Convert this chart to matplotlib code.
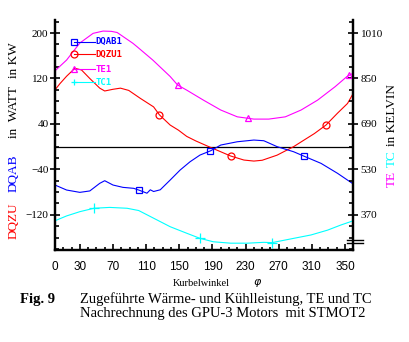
import numpy as np
import matplotlib
matplotlib.use("Agg")
import matplotlib.pyplot as plt

plt.rcParams['font.family'] = ['Liberation Serif', 'DejaVu Sans']

# crank angle samples and values
zu_deg = [0, 6, 14, 24, 32, 42, 54, 60, 70, 79, 89, 99, 103, 119, 126, 139, 149, 159, 170,
          184, 200, 212, 228, 240, 250, 268, 288, 301, 313, 327, 341, 353, 360]
zu_val = [100, 111, 124, 138, 135, 120, 103, 98, 101, 103, 99, 89, 85, 70, 56, 38, 29, 18, 10,
          1, -9, -16.5, -23.6, -25.4, -24, -15, 0, 12, 23, 38, 59, 76, 94]
zu_mark = [126, 212, 327]

ab_deg = [0, 14, 30, 42, 54, 60, 70, 82, 95, 101, 111, 115, 119, 127, 139, 151, 163, 175,
          188, 200, 220, 240, 252, 268, 288, 300, 321, 341, 360]
ab_val = [-67.6, -76.4, -80.5, -78, -64.6, -60, -67.6, -71.7, -73.4, -76.4, -82, -76, -79, -76,
          -58.8, -41.2, -26.6, -14.8, -7.2, 2.8, 8.6, 11.6, 10.4, 0, -9, -16.5, -29.4, -47, -65.8]
ab_mark = [101, 187, 300]

te_deg = [0, 14, 30, 46, 58, 68, 75, 94, 99, 118, 139, 148, 159, 179, 200, 220, 240, 258,
          278, 297, 317, 338, 352, 360]
te_val = [877, 915, 975, 1009, 1017, 1016, 1012, 974, 962, 915, 857, 827, 809, 774, 739, 715,
          707, 707, 715, 739, 774, 821, 856, 869]
te_mark = [149, 233, 355]

tc_deg = [0, 14, 30, 47, 66, 87, 101, 119, 139, 159, 175, 191, 212, 232, 252, 262, 288, 309,
          329, 345, 360]
tc_val = [349, 366, 381, 393, 396, 393, 385, 358, 328, 305, 287, 275, 270, 270, 273, 272, 287,
          299, 316, 334, 349]
tc_mark = [47, 175, 262]

x_major = [0, 30, 70, 110, 150, 190, 230, 270, 310, 350]
y_major = [200, 120, 40, -40, -120]
k_major = [1010, 850, 690, 530, 370]

RED, BLUE, MAG, CYAN = '#ff0000', '#0000ff', '#ff00ff', '#00ffff'

fig = plt.figure(figsize=(4.1, 3.42), dpi=100)
ax = fig.add_axes([55 / 410, 92 / 342, 298.3 / 410, 230 / 342])
ax2 = ax.twinx()

ylo, yhi = -182, 223
ax.set_xlim(0, 360)
ax.set_ylim(ylo, yhi)
ax2.set_ylim(610 + 2 * ylo, 610 + 2 * yhi)

ax.axhline(0, color='black', lw=0.9)

ax.plot(zu_deg, zu_val, color=RED, lw=0.8)
ax.plot(zu_mark, np.interp(zu_mark, zu_deg, zu_val), 'o', mfc='none', mec=RED, ms=5, mew=0.9)
ax.plot(ab_deg, ab_val, color=BLUE, lw=0.8)
ax.plot(ab_mark, np.interp(ab_mark, ab_deg, ab_val), 's', mfc='none', mec=BLUE, ms=5, mew=0.9)
ax2.plot(te_deg, te_val, color=MAG, lw=0.8)
ax2.plot(te_mark, np.interp(te_mark, te_deg, te_val), '^', mfc='none', mec=MAG, ms=5, mew=0.9)
ax2.plot(tc_deg, tc_val, color=CYAN, lw=0.8)
ax2.plot(tc_mark, np.interp(tc_mark, tc_deg, tc_val), '+', color=CYAN, ms=7, mew=0.9)

# ticks
ax.set_xticks(x_major)
ax.set_xticks(np.arange(0, 361, 10), minor=True)
ax.set_yticks(y_major)
ax.set_yticks(np.arange(-180, 221, 20), minor=True)
ax2.set_yticks(k_major)
ax2.set_yticks(np.arange(250, 1051, 40), minor=True)

for a in (ax, ax2):
    for s in a.spines.values():
        s.set_linewidth(1.6)
    a.spines['top'].set_visible(False)

ax.tick_params(axis='x', which='major', direction='in', length=4.5, width=1.2, pad=8,
               labelsize=8.5)
ax.tick_params(axis='x', which='minor', direction='in', length=2.2, width=1.2)
ax.tick_params(axis='y', which='major', direction='inout', length=6.5, width=1.2, pad=1.5,
               labelsize=8)
ax.tick_params(axis='y', which='minor', direction='in', length=3, width=1.2)
ax2.tick_params(axis='y', which='major', direction='inout', length=6.5, width=1.2, pad=2,
                labelsize=8)
ax2.tick_params(axis='y', which='minor', direction='in', length=3, width=1.2)
for lbl in ax.get_xticklabels():
    lbl.set_family(['Liberation Sans Narrow', 'Liberation Sans'])

# axis break on the right axis
for yb in (0.043, 0.030):
    ax2.plot([0.979, 1.033], [yb, yb], color='black', lw=1.0, transform=ax2.transAxes,
             clip_on=False)

# legend
leg_names = ['DQAB1', 'DQZU1', 'TE1', 'TC1']
leg_cols = [BLUE, RED, MAG, CYAN]
leg_marks = ['s', 'o', '^', '+']
leg_y = [0.906, 0.851, 0.786, 0.729]
for name, c, m, yy in zip(leg_names, leg_cols, leg_marks, leg_y):
    ax2.plot([0.065, 0.134], [yy, yy], color=c, lw=0.8, transform=ax2.transAxes)
    ax2.plot([0.065], [yy], m, mfc='none', mec=c, color=c, ms=5, mew=0.9,
             transform=ax2.transAxes)
    ax2.text(0.137, yy, name, color=c, fontsize=6.5, family='DejaVu Sans Mono',
             fontweight='bold', va='center', ha='left', transform=ax2.transAxes)

# axis titles
H = 342
fs = 9.5
fig.text(14 / 410, 1 - 60.5 / H, 'in KW', rotation=90, fontsize=fs, ha='center', va='center')
fig.text(14 / 410, 1 - 112.5 / H, 'in  WATT', rotation=90, fontsize=fs, ha='center', va='center')
fig.text(14 / 410, 1 - 173.5 / H, 'DQAB', rotation=90, fontsize=fs, color=BLUE, ha='center', va='center')
fig.text(14 / 410, 1 - 220.5 / H, 'DQZU', rotation=90, fontsize=fs, color=RED, ha='center', va='center')
fig.text(392 / 410, 1 - 115 / H, 'in KELVIN', rotation=90, fontsize=fs, ha='center', va='center')
fig.text(392 / 410, 1 - 158.5 / H, 'TC', rotation=90, fontsize=fs, color=CYAN, ha='center', va='center')
fig.text(392 / 410, 1 - 179 / H, 'TE', rotation=90, fontsize=fs, color=MAG, ha='center', va='center')

fig.text(173 / 410, 1 - 283 / H, 'Kurbelwinkel', fontsize=7.5, ha='left', va='center')
fig.text(258 / 410, 1 - 283 / H, r'$\varphi$', fontsize=8, ha='center', va='center')
fig.text(20 / 410, 1 - 299 / H, 'Fig. 9', fontsize=10.5, fontweight='bold', ha='left', va='center')
fig.text(80 / 410, 1 - 299 / H, 'Zugeführte Wärme- und Kühlleistung, TE und TC',
         fontsize=10.5, ha='left', va='center')
fig.text(80 / 410, 1 - 314 / H, 'Nachrechnung des GPU-3 Motors  mit STMOT2',
         fontsize=10.5, ha='left', va='center')

fig.savefig('out.png', dpi=100)
